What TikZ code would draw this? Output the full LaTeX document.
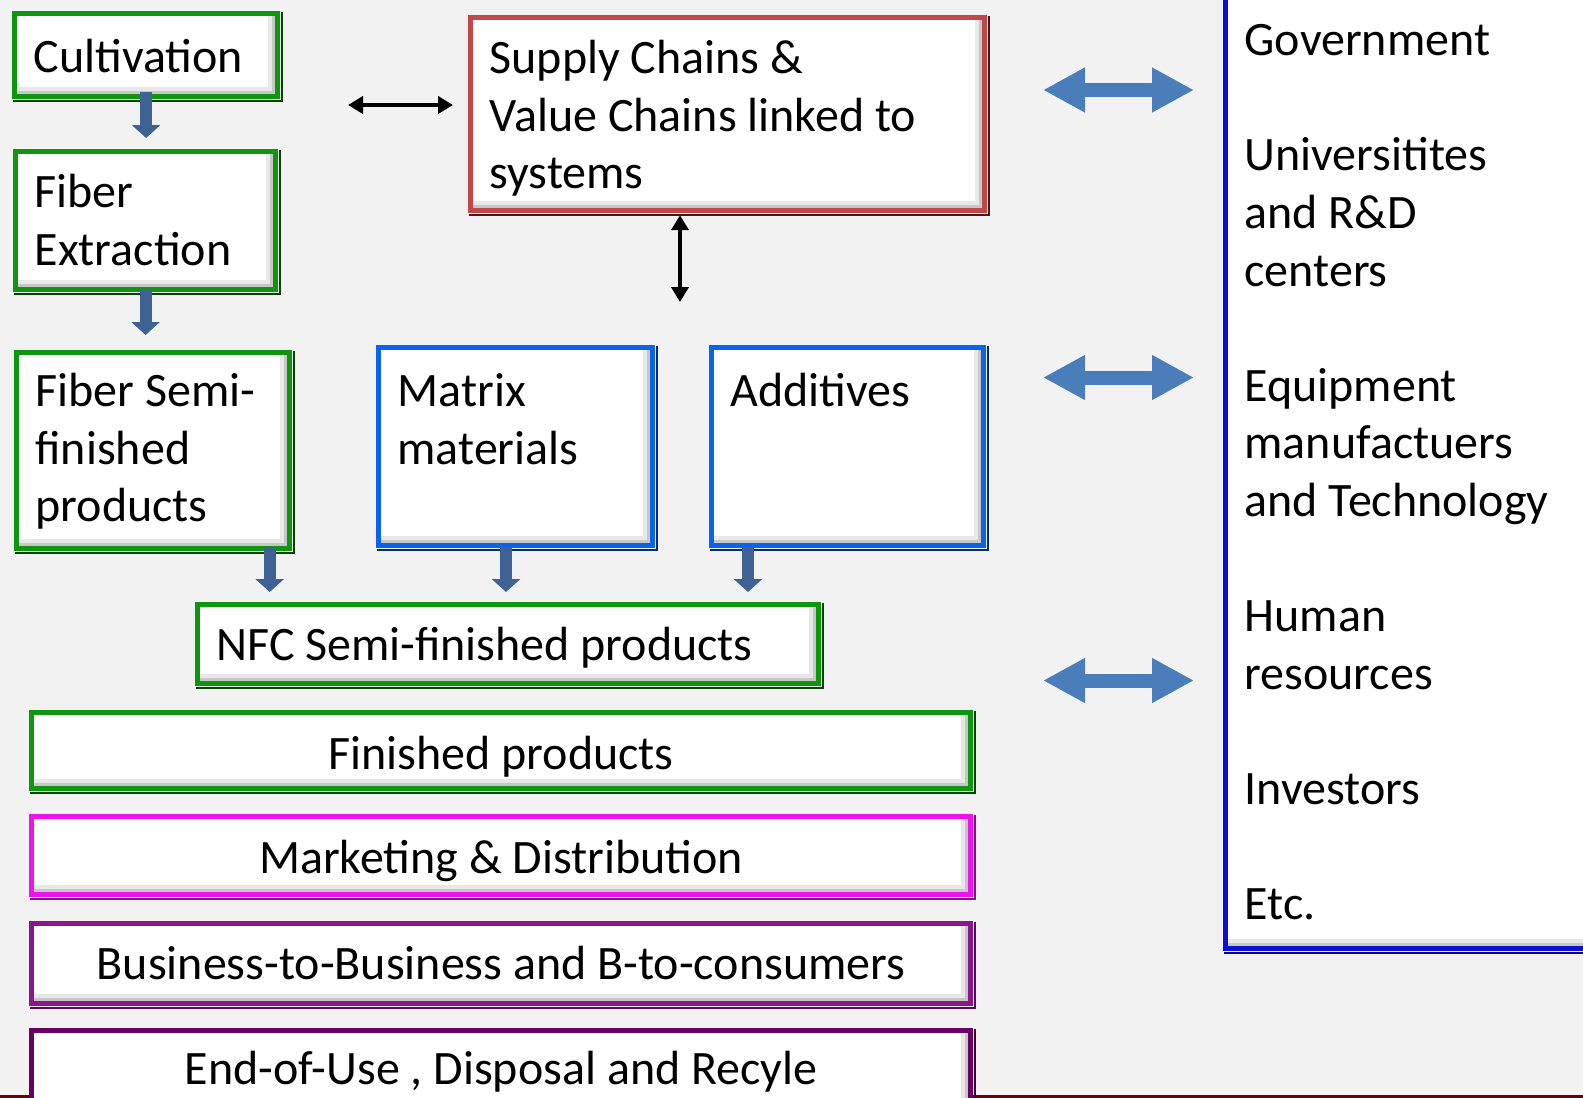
\documentclass[tikz,border=0pt]{standalone}
\usepackage{fontspec}
\setmainfont{Carlito}
\usetikzlibrary{arrows.meta,calc}
\definecolor{bg}{RGB}{242,242,242}
\definecolor{cgreen}{RGB}{14,150,14}
\definecolor{cred}{RGB}{192,72,72}
\definecolor{cblue}{RGB}{10,100,235}
\definecolor{cmag}{RGB}{235,20,235}
\definecolor{cpurp}{RGB}{140,20,140}
\definecolor{cdpurp}{RGB}{105,0,98}
\definecolor{cpanel}{RGB}{14,14,210}
\definecolor{cblock}{RGB}{62,98,148}
\definecolor{cfat}{RGB}{74,126,187}
\definecolor{cbottom}{RGB}{110,0,0}
\newcommand\mainfs{\fontsize{24}{28.8}\selectfont}
\begin{document}
\begin{tikzpicture}[x=0.5pt,y=-0.5pt,
  innershadow/.style={path picture={
    \draw[black!9,line width=10pt] (path picture bounding box.south west) -- (path picture bounding box.south east) -- (path picture bounding box.north east);
    \draw[black!22,line width=5.5pt] (path picture bounding box.south west) -- (path picture bounding box.south east) -- (path picture bounding box.north east);
  }},
  basebox/.style={draw, fill=white, line width=2.6pt, inner xsep=9.5pt, inner ysep=0pt,
    anchor=north west, innershadow, font=\mainfs},
  gbox/.style={basebox, draw=cgreen},
  rbox/.style={basebox, draw=cred},
  bbox/.style={basebox, draw=cblue},
  mbox/.style={basebox, draw=cmag},
  pbox/.style={basebox, draw=cpurp},
  dpbox/.style={basebox, draw=cdpurp},
  panelbox/.style={basebox, draw=cpanel},
  blockarrow/.style={draw=cblock, line width=6pt, -{Triangle[width=14pt,length=6.5pt]}},
  blk/.style={draw=black, line width=2pt, {Triangle[width=8.5pt,length=7.5pt]}-{Triangle[width=8.5pt,length=7.5pt]}},
  fat/.style={draw=cfat, line width=7pt, {Triangle[width=21pt,length=21pt]}-{Triangle[width=21pt,length=21pt]}}
]
\fill[bg] (0,0) rectangle (1583,1097);
\useasboundingbox (0,0) rectangle (1583,1097);
\draw[cbottom, line width=1.5pt] (0,1096) -- (1583,1096);

% left column
\node[gbox] (cult) at (12,11) {\parbox[c][41.5pt][t]{112.5pt}{\raggedright\rule{0pt}{29.5pt}Cultivation}};
\node[gbox] (fiber) at (13,149) {\parbox[c][69pt][t]{111pt}{\raggedright\rule{0pt}{28pt}Fiber\\Extraction}};
\node[gbox] (semi) at (14,350) {\parbox[c][98pt][t]{117.5pt}{\raggedright\rule{0pt}{27pt}Fiber Semi-\\finished\\products}};

% top middle
\node[rbox] (supply) at (468,15) {\parbox[c][96.5pt][t]{238pt}{\raggedright\rule{0pt}{28pt}Supply Chains \&\\Value Chains linked to\\systems}};

% inputs
\node[bbox] (matrix) at (376,345) {\parbox[c][99pt][t]{118pt}{\raggedright\rule{0pt}{29.5pt}Matrix\\materials}};
\node[bbox] (additives) at (709,345) {\parbox[c][99pt][t]{117pt}{\raggedright\rule{0pt}{29.5pt}Additives}};

% NFC
\node[gbox] (nfc) at (195,602) {\parbox[c][39.5pt][t]{291.5pt}{\raggedright\rule{0pt}{28pt}NFC Semi-finished products}};

% wide rows
\node[gbox] (finished) at (29,710) {\parbox[c][38pt][t]{450.5pt}{\centering\rule{0pt}{28.5pt}Finished products}};
\node[mbox] (marketing) at (29,814) {\parbox[c][39pt][t]{450.5pt}{\centering\rule{0pt}{28.5pt}Marketing \& Distribution}};
\node[pbox] (business) at (29,921) {\parbox[c][40pt][t]{450.5pt}{\centering\rule{0pt}{28pt}Business-to-Business and B-to-consumers}};
\node[dpbox] (endofuse) at (29,1028) {\parbox[c][50pt][t]{450.5pt}{\centering\rule{0pt}{27pt}End-of-Use , Disposal and Recyle}};

% right panel
\node[panelbox] (panel) at (1223,-6) {\parbox[c][476pt][t]{171pt}{\raggedright\rule{0pt}{29.5pt}Government\\[28.8pt]Universitites\\and R\&D\\centers\\[28.8pt]Equipment\\manufactuers\\and Technology\\[28.8pt]Human\\resources\\[28.8pt]Investors\\[28.8pt]Etc.}};

% darker outer edges (bevel)
\foreach \n/\c in {cult/cgreen!45!black, fiber/cgreen!45!black, semi/cgreen!45!black,
  supply/cred!35!black, matrix/cblue!45!black, additives/cblue!45!black,
  nfc/cgreen!45!black, finished/cgreen!45!black, marketing/cmag!60!black,
  business/cpurp!60!black, endofuse/cdpurp!60!black, panel/cpanel!60!black}
  \draw[\c, line width=0.9pt] ([xshift=0.5pt,yshift=-0.75pt]\n.south west) -- ([xshift=0.75pt,yshift=-0.75pt]\n.south east) -- ([xshift=0.75pt,yshift=-0.5pt]\n.north east);

% block arrows
\draw[blockarrow, shorten <=-3.5pt, shorten >=5.5pt] (cult.south) -- (cult.south |- fiber.north);
\draw[blockarrow, shorten <=-1.5pt, shorten >=7.5pt] (fiber.south) -- (fiber.south |- semi.north);
\draw[blockarrow, shorten <=-1.5pt, shorten >=5pt] ([xshift=-11.25pt]semi.south east) -- ([xshift=-11.25pt]semi.south east |- nfc.north);
\draw[blockarrow, shorten <=-0.5pt, shorten >=5pt] ([xshift=65pt]matrix.south west) -- ([xshift=65pt]matrix.south west |- nfc.north);
\draw[blockarrow, shorten <=-0.5pt, shorten >=5pt] ([xshift=19.5pt]additives.south west) -- ([xshift=19.5pt]additives.south west |- nfc.north);

% black arrows
\coordinate (hL) at (348,105);
\draw[blk, shorten >=7.5pt] (hL) -- (hL -| supply.west);
\coordinate (vB) at (680,302);
\draw[blk, shorten <=1pt] ([xshift=106pt]supply.south west) -- (vB);

% fat blue arrows
\coordinate (f1) at (1043,90);
\coordinate (f2) at (1043,377.5);
\coordinate (f3) at (1043,680.5);
\draw[fat, shorten >=14.5pt] (f1) -- (f1 -| panel.west);
\draw[fat, shorten >=14.5pt] (f2) -- (f2 -| panel.west);
\draw[fat, shorten >=14.5pt] (f3) -- (f3 -| panel.west);
\end{tikzpicture}
\end{document}
